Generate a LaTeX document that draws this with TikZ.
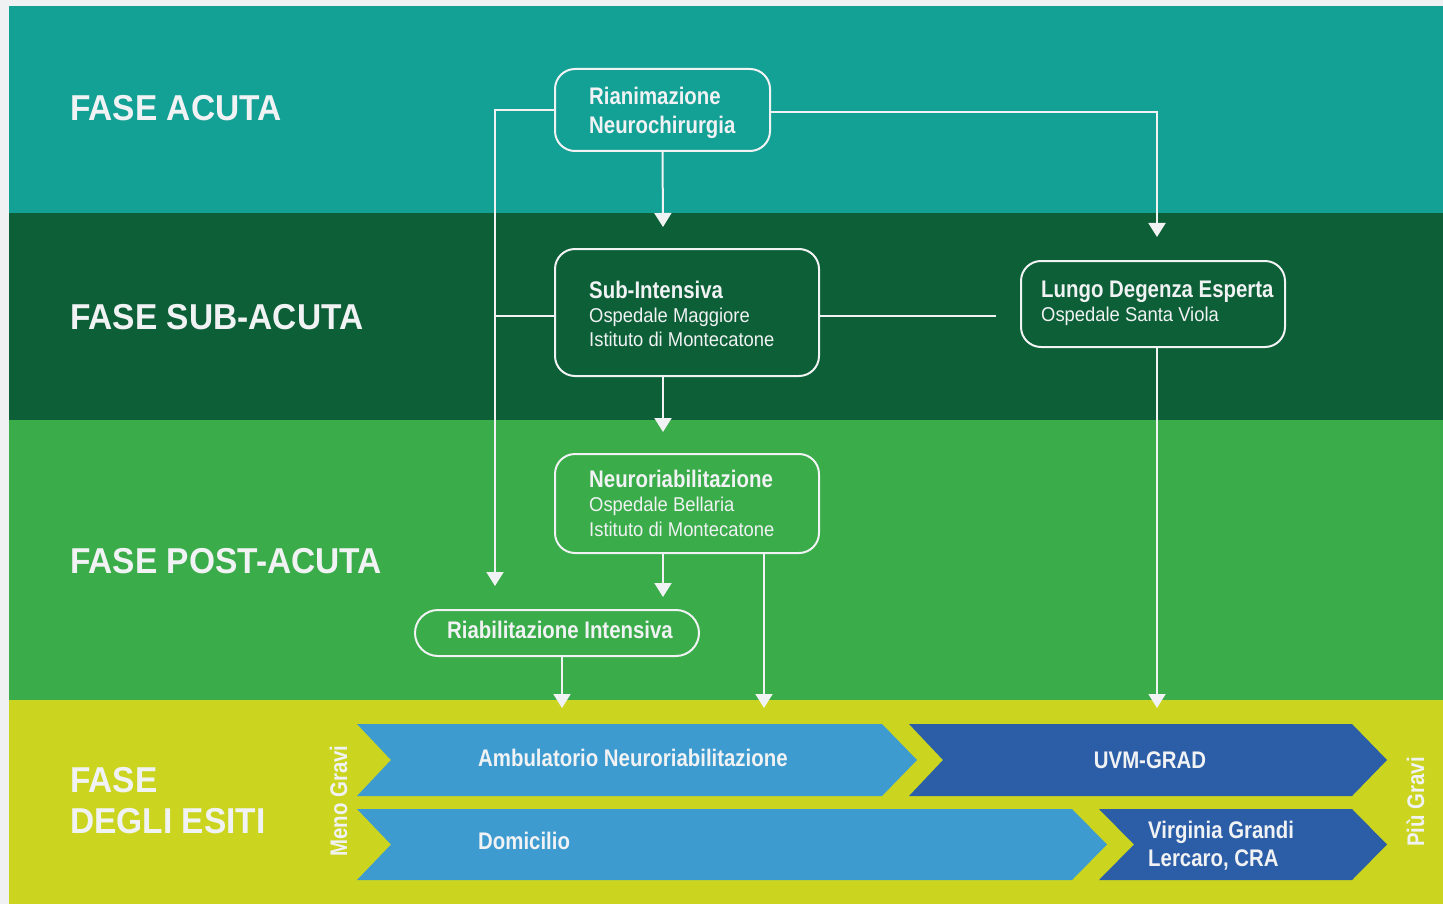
\documentclass[tikz,border=0pt]{standalone}
\usepackage{fontspec}
\setmainfont{Liberation Sans}
\newfontfamily\phasef{Liberation Sans}[FakeStretch=0.93]
\newfontfamily\condf{Liberation Sans}[FakeStretch=0.85]
\newfontfamily\regf{Liberation Sans}[FakeStretch=0.92]
\usetikzlibrary{arrows.meta}
\definecolor{bggray}{HTML}{F0F1F3}
\definecolor{bandteal}{HTML}{13A095}
\definecolor{banddark}{HTML}{0C5F36}
\definecolor{bandgreen}{HTML}{3AAC49}
\definecolor{bandlime}{HTML}{CBD51F}
\definecolor{lblue}{HTML}{3E9BD0}
\definecolor{dblue}{HTML}{2C5DA7}
\definecolor{fg}{HTML}{F0F2F4}
\tikzset{
  box/.style={draw=fg, line width=2pt, rounded corners=20pt, inner sep=0pt},
  conn/.style={draw=fg, line width=2pt},
  arr/.style={conn, -{Triangle[width=17pt,length=14pt]}},
  phase/.style={text=fg, font=\phasef\bfseries\fontsize{36}{40}\selectfont, anchor=base west, inner sep=0pt},
  bt/.style={text=fg, font=\condf\bfseries\fontsize{24}{28}\selectfont, anchor=base west, inner sep=0pt},
  rt/.style={text=fg, font=\regf\fontsize{20}{24}\selectfont, anchor=base west, inner sep=0pt},
}
\begin{document}
\begin{tikzpicture}[x=1pt,y=-1pt]
\useasboundingbox (0,0) rectangle (1443,904);
\fill[bggray] (0,0) rectangle (1443,904);
% bands
\fill[bandteal] (9,6) rectangle (1443,213);
\fill[banddark] (9,213) rectangle (1443,420);
\fill[bandgreen] (9,420) rectangle (1443,700);
\fill[bandlime] (9,700) rectangle (1443,904);
% phase labels
\node[phase] (p1) at (70,121) {FASE ACUTA};
\node[phase] (p2) at (70,329) {FASE SUB-ACUTA};
\node[phase] (p3) at (70,573) {FASE POST-ACUTA};
\node[phase] (p4a) at (70,792) {FASE};
\node[phase] (p4b) at (70,833) {DEGLI ESITI};
% boxes
\node[box, minimum width=215pt, minimum height=82pt] (rian) at (662.5,110) {};
\node[box, minimum width=264pt, minimum height=127pt] (sub) at (687,312.5) {};
\node[box, minimum width=264pt, minimum height=86pt] (lungo) at (1153,304) {};
\node[box, minimum width=264pt, minimum height=99pt] (neuro) at (687,503.5) {};
\node[box, rounded corners=23pt, minimum width=284pt, minimum height=46pt] (riab) at (557,633) {};
% box texts
\node[bt] (t1a) at (589,105) {Rianimazione};
\node[bt] (t1b) at (589,134) {Neurochirurgia};
\node[bt] (t2a) at (589,298) {Sub-Intensiva};
\node[rt] (t2b) at (589,322) {Ospedale Maggiore};
\node[rt] (t2c) at (589,346) {Istituto di Montecatone};
\node[bt] (t3a) at (1041,297) {Lungo Degenza Esperta};
\node[rt] (t3b) at (1041,321) {Ospedale Santa Viola};
\node[bt] (t4a) at (589,487) {Neuroriabilitazione};
\node[rt] (t4b) at (589,511) {Ospedale Bellaria};
\node[rt] (t4c) at (589,536) {Istituto di Montecatone};
\node[bt, anchor=base] (t5) at (560,638) {Riabilitazione Intensiva};
% connectors
\coordinate (a1) at (495,586);
\coordinate (a2) at (663,227);
\coordinate (a3) at (1157,237);
\coordinate (a4) at (663,432);
\coordinate (a5) at (663,597);
\coordinate (a6) at (764,708);
\coordinate (a7) at (562,708);
\coordinate (a8) at (1157,708);
\coordinate (sw) at ([yshift=-3.5pt]sub.west);
\coordinate (se) at ([yshift=-3.5pt]sub.east);
\coordinate (se2) at (996,316);
\coordinate (re) at ([yshift=-2pt]rian.east);
\draw[arr] (rian.west) -| (a1);
\draw[conn] (sw) -- (sw -| a1);
\draw[arr] (rian.south) -- (a2);
\draw[arr] (re) -| (a3);
\draw[conn] (se) -- (se2);
\draw[arr] (sub.south -| a4) -- (a4);
\draw[arr] (neuro.south -| a5) -- (a5);
\draw[arr] (neuro.south -| a6) -- (a6);
\draw[arr] (riab.south -| a7) -- (a7);
\draw[arr] (lungo.south -| a8) -- (a8);
% chevrons
\fill[lblue] (357,724) -- (882,724) -- (917,760) -- (882,796) -- (357,796) -- (391,760) -- cycle;
\fill[dblue] (909,724) -- (1352,724) -- (1387,760) -- (1352,796) -- (909,796) -- (943,760) -- cycle;
\fill[lblue] (357,809) -- (1072,809) -- (1107,844.5) -- (1072,880) -- (357,880) -- (391,844.5) -- cycle;
\fill[dblue] (1099,809) -- (1352,809) -- (1387,844.5) -- (1352,880) -- (1099,880) -- (1134,844.5) -- cycle;
\node[bt] (c1) at (478,766) {Ambulatorio Neuroriabilitazione};
\node[bt, anchor=base] (c2) at (1150,768) {UVM-GRAD};
\node[bt] (c3) at (478,849) {Domicilio};
\node[bt] (c4a) at (1148,838) {Virginia Grandi};
\node[bt] (c4b) at (1148,866) {Lercaro, CRA};
\node[bt, anchor=base, rotate=90] (meno) at (347,801) {Meno Gravi};
\node[bt, anchor=base, rotate=90] (piu) at (1424,802) {Più Gravi};
\end{tikzpicture}
\end{document}
